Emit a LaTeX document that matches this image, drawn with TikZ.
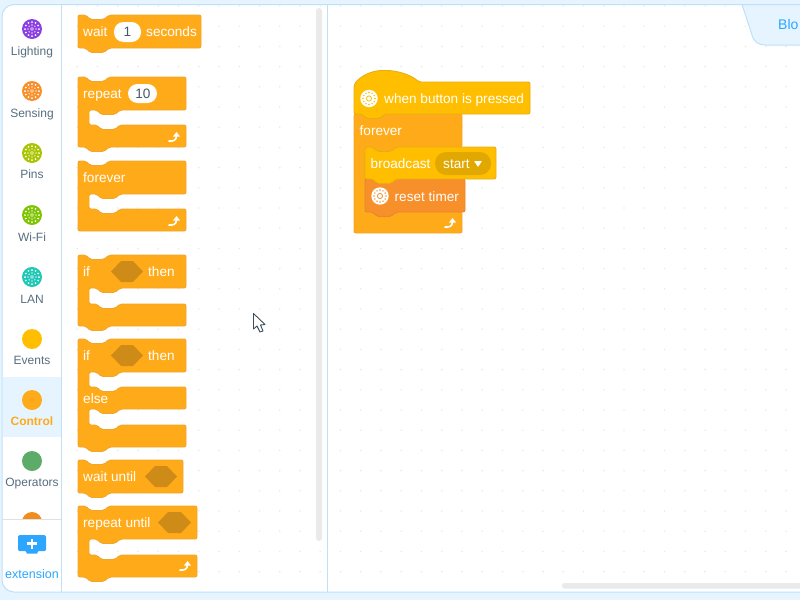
\documentclass[tikz,border=0pt]{standalone}
\usepackage{fontspec}
\setmainfont{Liberation Sans}
\definecolor{pagebg}{HTML}{E6F4FF}
\definecolor{edgeblue}{HTML}{BFE0F8}
\definecolor{ctrl}{HTML}{FFAB19}
\definecolor{ctrledge}{HTML}{F0A62A}
\definecolor{evt}{HTML}{FFBF00}
\definecolor{evtedge}{HTML}{E8AE10}
\definecolor{sens}{HTML}{F78F2B}
\definecolor{sensedge}{HTML}{E8872C}
\definecolor{hexfill}{HTML}{CF8B17}
\definecolor{menufill}{HTML}{E0A800}
\definecolor{labelc}{HTML}{566F80}
\definecolor{linkblue}{HTML}{2CA6FF}
\definecolor{griddot}{HTML}{EBEBEB}
\definecolor{barfill}{HTML}{EAEAEA}
\definecolor{catlight}{HTML}{8A3FE0}
\definecolor{catpins}{HTML}{A9C400}
\definecolor{catwifi}{HTML}{7FC400}
\definecolor{catlan}{HTML}{1EC8B5}
\definecolor{catops}{HTML}{5CAB68}
\definecolor{catnext}{HTML}{F08C1E}
\newcommand\tn[2]{ -- (#1+8,#2) -- (#1+12,#2+4.5) -- (#1+26,#2+4.5) -- (#1+31,#2) }
\newcommand\bn[2]{ -- (#1+31,#2) -- (#1+26,#2+4.5) -- (#1+12,#2+4.5) -- (#1+8,#2) }
\newcommand\mouth[4]{ -- (#2,#3) \bn{#1+11}{#3} -- (#1+11,#3) -- (#1+11,#4) \tn{#1+11}{#4} -- (#2,#4) }
\newcommand\loopicon[2]{%
  \begin{scope}[shift={(#1,#2)}]
    \draw[white,line width=1.6pt] (-5.5,4) .. controls (-1,4.5) and (2.5,3.5) .. (2.5,-1.5);
    \fill[white] (2.5,-5) -- (6,-0.5) -- (-1,-0.5) -- cycle;
  \end{scope}}
\newcommand\catdot[3]{% x y colour
  \begin{scope}[shift={(#1,#2)}]
    \fill[#3] (0,0) circle (10);
    \foreach \a in {0,30,...,330}{\fill[white] (\a:7) circle (1);}
    \foreach \a in {0,45,...,315}{\fill[white,opacity=.7] (\a:4) circle (0.8);}
    \fill[white,opacity=.45] (0,0) circle (2);
  \end{scope}}
\newcommand\hubicon[3]{% x y colour
  \begin{scope}[shift={(#1,#2)}]
    \fill[white] (0,0) circle (8.7);
    \foreach \a in {0,30,...,330}{\fill[#3] (\a:6) circle (0.8);}
    \draw[#3,line width=.8pt] (0,0) circle (2.6);
  \end{scope}}
\tikzset{
  x=1pt,y=-1pt,
  ctrlblock/.style={fill=ctrl,draw=ctrledge,line width=.9pt,rounded corners=2pt},
  evtblock/.style={fill=evt,draw=evtedge,line width=.9pt,rounded corners=2pt},
  sensblock/.style={fill=sens,draw=sensedge,line width=.9pt,rounded corners=2pt},
  hexslot/.style={fill=hexfill},
  blocktext/.style={text=white,font=\fontsize{13.6}{15}\selectfont,inner sep=0pt,anchor=mid west,yshift=-2pt},
  sidelabel/.style={text=labelc,font=\fontsize{12}{14}\selectfont,inner sep=0pt,anchor=mid,yshift=-2pt},
  pill/.style={fill=white,rounded corners=9.5pt},
  valuetext/.style={font=\fontsize{13.6}{15}\selectfont,inner sep=0pt,anchor=mid,text=labelc!80!black,yshift=-2pt},
}
\newcommand\hexagon[4]{\fill[hexslot] (#1,#3+#4/2) -- (#1+10,#3) -- (#2-10,#3) -- (#2,#3+#4/2) -- (#2-10,#3+#4) -- (#1+10,#3+#4) -- cycle;}
\begin{document}
\begin{tikzpicture}
\useasboundingbox (0,0) rectangle (800,600);
% page and panel
\fill[pagebg] (0,0) rectangle (800,600);
\begin{scope}
\clip (0,0) rectangle (800,600);
\draw[fill=white,draw=edgeblue,line width=1pt,rounded corners=12pt] (2,4.5) rectangle (830,592);
\end{scope}
% grid dots
\foreach \i in {0,...,35}{\foreach \j in {0,...,28}{
  \fill[griddot] ({77.25+20.25*\i},{6+20.2*\j}) circle (.9);}}
% tab
\begin{scope}
\clip (0,0) rectangle (800,600);
\fill[pagebg,draw=edgeblue,line width=1pt] (742,4.5) -- (752,35) .. controls (754,42) and (758,45) .. (766,45) -- (812,45) -- (812,4.5) -- cycle;
\end{scope}
\node[inner sep=0pt,anchor=mid west,text=linkblue,font=\fontsize{14}{16}\selectfont,yshift=-2pt] (tabtext) at (778,25) {Blo};
% canvas edge, scrollbars
\draw[edgeblue,line width=1pt] (327.5,5) -- (327.5,592);
\fill[barfill,rounded corners=3pt] (316,8) rectangle (322,541);
\fill[barfill,rounded corners=2.5pt] (562,583) rectangle (806,588.5);
% sidebar
\fill[pagebg] (2.5,377) rectangle (61,437);
\catdot{32}{29}{catlight}
\catdot{32}{91}{sens}
\catdot{32}{153}{catpins}
\catdot{32}{215}{catwifi}
\catdot{32}{277}{catlan}
\fill[evt] (32,339) circle (10);
\fill[ctrl] (32,400) circle (10);
\fill[catops] (32,461) circle (10);
\begin{scope}
\clip (3,500) rectangle (61,519);
\fill[catnext] (32,522) circle (10);
\end{scope}
\draw[edgeblue,line width=1pt] (61.5,5) -- (61.5,592);
\draw[black!12,line width=.8pt] (2.5,519.5) -- (61,519.5);
\node[sidelabel] (lLighting) at (32,51) {Lighting};
\node[sidelabel] (lSensing) at (32,113) {Sensing};
\node[sidelabel] (lPins) at (32,174) {Pins};
\node[sidelabel] (lWifi) at (32,237) {Wi-Fi};
\node[sidelabel] (lLan) at (32,299) {LAN};
\node[sidelabel] (lEvents) at (32,360) {Events};
\node[sidelabel,text=ctrl,font=\fontsize{12}{14}\selectfont\bfseries] (lControl) at (32,421) {Control};
\node[sidelabel] (lOperators) at (32,482) {Operators};
\fill[linkblue,rounded corners=1.5pt] (18,535) rectangle (46,551);
\fill[linkblue] (18,550) -- (25,550) -- (27,553.5) -- (37,553.5) -- (39,550) -- (46,550) -- cycle;
\draw[white,line width=2.4pt] (32,538.5) -- (32,548.5) (27,543.5) -- (37,543.5);
\node[sidelabel,text=linkblue,font=\fontsize{12.5}{14}\selectfont] (lExt) at (32,574) {extension};
% wait seconds
\draw[ctrlblock] (78,15) \tn{78}{15} -- (201,15) -- (201,48) \bn{78}{48} -- (78,48) -- cycle;
\node[blocktext] (t1) at (83,31.5) {wait};
\fill[pill] (114,22) rectangle (141,42);
\node[valuetext] (v1) at (127.5,32) {1};
\node[blocktext] (t2) at (146,31.5) {seconds};
% repeat
\draw[ctrlblock] (78,77) \tn{78}{77} -- (186,77) \mouth{78}{186}{110}{125} -- (186,147) \bn{78}{147} -- (78,147) -- cycle;
\node[blocktext] (t3) at (83,93.5) {repeat};
\fill[pill] (128,84) rectangle (157,103);
\node[valuetext] (v2) at (143,93.5) {10};
\loopicon{174}{137}
% forever
\draw[ctrlblock] (78,161) \tn{78}{161} -- (186,161) \mouth{78}{186}{194}{209} -- (186,231) -- (78,231) -- cycle;
\node[blocktext] (t4) at (83,177.5) {forever};
\loopicon{174}{221}
% if then
\draw[ctrlblock] (78,255) \tn{78}{255} -- (186,255) \mouth{78}{186}{288}{304} -- (186,326) \bn{78}{326} -- (78,326) -- cycle;
\node[blocktext] (t5) at (83,271.5) {if};
\hexagon{111}{143}{261}{21}
\node[blocktext] (t6) at (148,271.5) {then};
% if then else
\draw[ctrlblock] (78,339) \tn{78}{339} -- (186,339) \mouth{78}{186}{372}{387} -- (186,409) \bn{89}{409} -- (89,409) -- (89,425) \tn{89}{425} -- (186,425) -- (186,447) \bn{78}{447} -- (78,447) -- cycle;
\node[blocktext] (t7) at (83,355.5) {if};
\hexagon{111}{143}{345}{21}
\node[blocktext] (t8) at (148,355.5) {then};
\node[blocktext] (t9) at (83,398.5) {else};
% wait until
\draw[ctrlblock] (78,460) \tn{78}{460} -- (183,460) -- (183,493) \bn{78}{493} -- (78,493) -- cycle;
\node[blocktext] (t10) at (83,477) {wait until};
\hexagon{145}{177}{466}{21}
% repeat until
\draw[ctrlblock] (78,506) \tn{78}{506} -- (197,506) \mouth{78}{197}{539}{555} -- (197,577) \bn{78}{577} -- (78,577) -- cycle;
\node[blocktext] (t11) at (83,522.5) {repeat until};
\hexagon{158}{191}{512}{21}
\loopicon{185}{566}
% script: forever
\draw[ctrlblock] (354,114) -- (462,114) \mouth{354}{462}{147}{212} -- (462,233) -- (354,233) -- cycle;
\node[blocktext] (t12) at (359.5,131) {forever};
\loopicon{450}{223}
% script: reset timer
\draw[sensblock] (365,179) -- (465,179) -- (465,212) \bn{365}{212} -- (365,212) -- cycle;
\hubicon{380}{196}{sens}
\node[blocktext] (t13) at (394.5,196.5) {reset timer};
% script: broadcast
\draw[evtblock] (365,147) \tn{365}{147} -- (496,147) -- (496,179) \bn{365}{179} -- (365,179) -- cycle;
\node[blocktext] (t14) at (370.5,163.5) {broadcast};
\fill[menufill,rounded corners=11pt] (435,152) rectangle (491,175);
\node[blocktext] (t15) at (443,163.5) {start};
\fill[white,rounded corners=.5pt] (474,161) -- (482,161) -- (478,167) -- cycle;
% script: hat
\draw[evtblock] (354,114) -- (354,85) .. controls (360,76) and (372,70.5) .. (384,70.5) .. controls (398,70.5) and (411,75) .. (419,82) -- (530,82) -- (530,114) \bn{354}{114} -- (354,114) -- cycle;
\hubicon{369}{98.5}{evt}
\node[blocktext] (t16) at (384,98.5) {when button is pressed};
% cursor
\fill[white,draw=labelc!70!black,line width=.9pt,line join=round] (253.5,313.5) -- (253.5,329) -- (257,326) -- (260,332) -- (263,331) -- (260.5,325) -- (265,324.5) -- cycle;
\end{tikzpicture}
\end{document}
